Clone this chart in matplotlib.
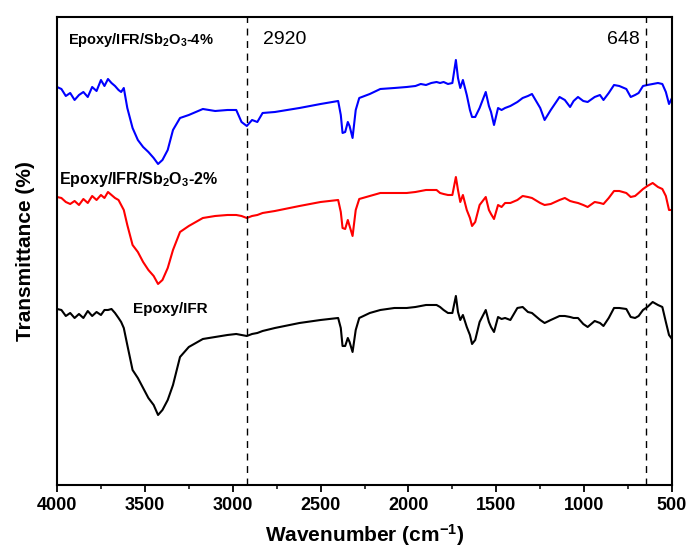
import numpy as np
import matplotlib
matplotlib.use("Agg")
import matplotlib.pyplot as plt
from matplotlib.ticker import MultipleLocator

plt.rcParams['font.family'] = ['Liberation Sans', 'DejaVu Sans']
plt.rcParams['mathtext.default'] = 'regular'

# FTIR spectra, wavenumber grid shared by all three samples (cm-1)
wavenumber = [4000, 3975, 3950, 3925, 3900, 3875, 3850, 3825, 3800, 3775, 3750, 3730, 3710, 3690,
              3670, 3650, 3635, 3620, 3600, 3570, 3540, 3510, 3480, 3450, 3425, 3400, 3370, 3340,
              3300, 3250, 3170, 3100, 3030, 2980, 2950, 2920, 2890, 2860, 2830, 2760, 2620, 2500,
              2400, 2385, 2375, 2360, 2345, 2335, 2318, 2300, 2280, 2220, 2160, 2080, 2010, 1960,
              1930, 1900, 1870, 1840, 1820, 1800, 1775, 1750, 1730, 1718, 1705, 1690, 1668, 1650,
              1638, 1620, 1595, 1560, 1542, 1530, 1513, 1490, 1470, 1450, 1420, 1380, 1350, 1320,
              1297, 1250, 1225, 1190, 1140, 1110, 1080, 1060, 1035, 1005, 980, 940, 910, 890, 860,
              830, 800, 760, 735, 710, 690, 665, 640, 610, 580, 555, 535, 517, 500]

# depth below the top of the frame (arbitrary units, curves offset vertically)
sb4 = [87, 89, 96, 93, 100, 95, 92, 97, 87, 91, 80, 86, 79, 83, 86, 90, 92, 88, 108, 128, 140,
       147, 152, 158, 164, 160, 150, 130, 118, 115, 109, 111, 110, 110, 122, 126, 120, 122, 113,
       112, 108, 104, 101, 115, 133, 132, 122, 126, 138, 110, 98, 94, 89, 88, 87, 86, 84, 85, 83,
       82, 83, 82, 84, 83, 60, 78, 88, 80, 95, 110, 117, 117, 108, 92, 106, 112, 125, 108, 110,
       108, 106, 102, 98, 96, 94, 108, 120, 110, 97, 100, 107, 101, 97, 101, 102, 97, 95, 100, 93,
       85, 86, 89, 97, 95, 93, 86, 85, 84, 83, 84, 92, 104, 98]
sb2 = [197, 198, 202, 204, 201, 205, 199, 203, 196, 200, 195, 198, 192, 195, 198, 200, 205, 210,
       225, 245, 252, 262, 270, 276, 284, 280, 268, 250, 232, 226, 218, 216, 215, 215, 216, 218,
       216, 215, 213, 211, 206, 202, 200, 212, 228, 229, 220, 226, 236, 210, 199, 196, 193, 193,
       193, 192, 191, 190, 190, 190, 193, 194, 195, 195, 177, 190, 202, 195, 210, 218, 226, 222,
       205, 197, 210, 214, 219, 205, 207, 203, 203, 200, 196, 197, 198, 203, 205, 204, 200, 198,
       201, 202, 203, 205, 207, 202, 203, 204, 198, 191, 191, 193, 197, 196, 193, 189, 186, 183,
       187, 189, 196, 210, 210]
neat = [309, 310, 316, 313, 318, 314, 318, 311, 316, 312, 315, 310, 310, 309, 313, 318, 322, 328,
        345, 370, 378, 388, 398, 405, 415, 410, 400, 385, 357, 347, 339, 337, 335, 334, 335, 336,
        334, 333, 331, 328, 323, 320, 318, 328, 346, 346, 338, 342, 352, 330, 318, 313, 310, 308,
        308, 307, 306, 305, 305, 305, 307, 310, 313, 313, 296, 312, 320, 315, 327, 335, 344, 340,
        322, 310, 322, 327, 332, 317, 319, 318, 320, 308, 307, 312, 313, 320, 323, 320, 316, 316,
        317, 318, 318, 324, 327, 321, 323, 326, 318, 308, 308, 309, 317, 318, 316, 310, 307, 302,
        305, 307, 322, 335, 339]

peaks = [2920, 648]
top = 485

fig = plt.figure(figsize=(6.92, 5.59), dpi=100)
ax = fig.add_axes([0.0824, 0.1324, 0.8887, 0.8372])

wn = np.array(wavenumber)
ax.plot(wn, top - np.array(sb4), color='#0000ff', lw=1.5)
ax.plot(wn, top - np.array(sb2), color='#ff0000', lw=1.5)
ax.plot(wn, top - np.array(neat), color='black', lw=1.5)

for p in peaks:
    ax.axvline(p, color='black', ls=(0, (5, 4)), lw=1)

ax.set_xlim(4000, 500)
ax.set_ylim(0, 468)

ax.text(3940, 445, 'Epoxy/IFR/Sb$_2$O$_3$-4%', fontsize=10.5, fontweight='bold', va='center')
ax.text(2830, 445, '2920', fontsize=14, va='center')
ax.text(870, 445, '648', fontsize=14, va='center')
ax.text(3990, 305, 'Epoxy/IFR/Sb$_2$O$_3$-2%', fontsize=11.5, fontweight='bold', va='center')
ax.text(3570, 176, 'Epoxy/IFR', fontsize=11, fontweight='bold', va='center')

ax.xaxis.set_major_locator(MultipleLocator(500))
ax.xaxis.set_minor_locator(MultipleLocator(250))
ax.tick_params(axis='x', which='major', direction='out', length=5, width=1.3, labelsize=13)
ax.tick_params(axis='x', which='minor', direction='out', length=3, width=1.1)
ax.tick_params(axis='y', left=False, labelleft=False)
for lbl in ax.get_xticklabels():
    lbl.set_fontweight('bold')
for s in ax.spines.values():
    s.set_linewidth(1.5)

ax.set_xlabel('Wavenumber (cm$^{-1}$)', fontsize=15, fontweight='bold', labelpad=6)
ax.set_ylabel('Transmittance (%)', fontsize=15, fontweight='bold', labelpad=16)

fig.savefig('out.png', dpi=100)
